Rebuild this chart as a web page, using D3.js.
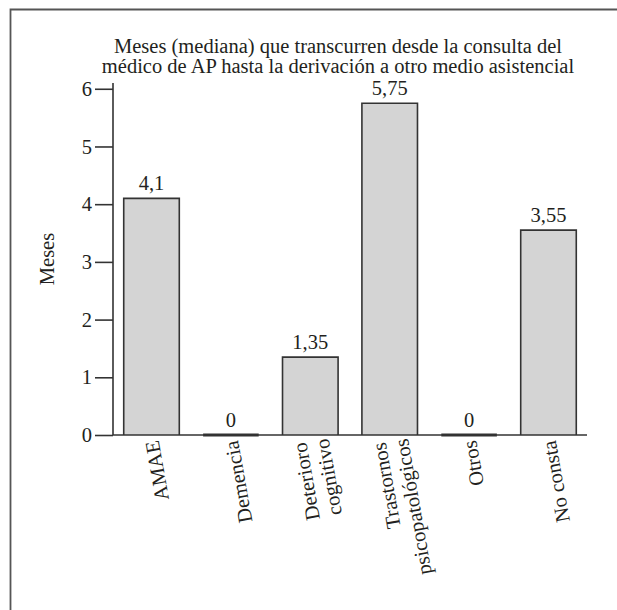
<!DOCTYPE html>
<html>
<head>
<meta charset="utf-8">
<script src="https://cdn.jsdelivr.net/npm/d3@7"></script>
<style>
  html, body { margin: 0; padding: 0; background: #fff; }
  svg text { font-family: "Liberation Serif", "Times New Roman", serif !important; fill: #231f20; }
</style>
</head>
<body>
<svg id="chart" width="617" height="610"></svg>
<script>
const categories = [["AMAE"], ["Demencia"], ["Deterioro", "cognitivo"], ["Trastornos", "psicopatológicos"], ["Otros"], ["No consta"]];
const values = [4.1, 0, 1.35, 5.75, 0, 3.55];
const valueLabels = ["4,1", "0", "1,35", "5,75", "0", "3,55"];
const yTicks = [0, 1, 2, 3, 4, 5, 6];
const titleLines = ["Meses (mediana) que transcurren desde la consulta del", "médico de AP hasta la derivación a otro medio asistencial"];
const yLabel = "Meses";

(function () {
const svg = d3.select("#chart");
const W = 617, H = 610;
const mLeft = 113, mRight = 587, mBase = 435, mTop = 83;
const fs = 20.5;
const serif = '"Liberation Serif", "Times New Roman", serif';

// frame (top and left edges visible)
svg.append("path")
  .attr("d", `M10.5,${H} V9.5 H${W}`)
  .attr("fill", "none").attr("stroke", "#555").attr("stroke-width", 1.8);

const keys = categories.map((c, i) => i);
const x = d3.scaleBand().domain(keys).range([mLeft, mRight]).paddingInner(0.3).paddingOuter(0.135);
const y = d3.scaleLinear().domain([0, 6.1]).range([mBase, mTop]);

// title
const title = svg.append("text").attr("text-anchor", "middle").attr("font-size", fs).style("font-family", serif);
titleLines.forEach((t, i) => {
  title.append("tspan").attr("x", 338).attr("y", 53 + i * 20).text(t);
});

// bars
svg.append("g").selectAll("path").data(values).join("path")
  .attr("d", (d, i) => {
    const x0 = x(i), x1 = x(i) + x.bandwidth();
    return `M${x0},${y(0)} V${y(d)} H${x1} V${y(0)}`;
  })
  .attr("fill", "#d4d4d4")
  .attr("stroke", "#333")
  .attr("stroke-width", d => d === 0 ? 3 : 1.6);

// value labels
svg.append("g").selectAll("text").data(values).join("text")
  .attr("x", (d, i) => x(i) + x.bandwidth() / 2)
  .attr("y", d => y(d) - 8)
  .attr("text-anchor", "middle")
  .attr("font-size", fs)
  .style("font-family", serif)
  .text((d, i) => valueLabels[i]);

// y axis
const yAxis = d3.axisLeft(y).tickValues(yTicks).tickSize(18).tickPadding(3).tickFormat(d3.format("d"));
const gy = svg.append("g").attr("transform", `translate(${mLeft},0)`).call(yAxis)
  .attr("font-family", serif);
gy.select(".domain").attr("d", `M0,${y.range()[1]}V${y.range()[0]}`).attr("stroke", "#333").attr("stroke-width", 1.6);
gy.selectAll(".tick line").attr("stroke", "#333").attr("stroke-width", 1.6);
gy.selectAll(".tick text").attr("font-size", fs).style("font-family", serif).attr("fill", "#231f20");

// x axis baseline
const xAxis = d3.axisBottom(x).tickSize(0).tickFormat("");
const gx = svg.append("g").attr("transform", `translate(0,${mBase})`).call(xAxis);
gx.select(".domain").attr("stroke", "#333").attr("stroke-width", 1.6)
  .attr("d", `M${mLeft},0H${mRight}`);
gx.selectAll(".tick").remove();

// x category labels (rotated)
const lab = svg.append("g").selectAll("text").data(categories).join("text")
  .attr("transform", (d, i) => `translate(${x(i) + x.bandwidth() / 2},${mBase + 6}) rotate(-100)`)
  .attr("text-anchor", "end")
  .attr("font-size", fs)
  .style("font-family", serif);
lab.each(function(lines) {
  const t = d3.select(this);
  const n = lines.length;
  lines.forEach((ln, j) => {
    t.append("tspan").attr("x", 0)
      .attr("dy", j === 0 ? `${0.35 - (n - 1) * 0.55}em` : "1.1em")
      .text(ln);
  });
});

// y label
svg.append("text")
  .attr("transform", `translate(54,${(mBase + mTop) / 2}) rotate(-90)`)
  .attr("text-anchor", "middle")
  .attr("font-size", fs)
  .style("font-family", serif)
  .text(yLabel);
})();
</script>
</body>
</html>
